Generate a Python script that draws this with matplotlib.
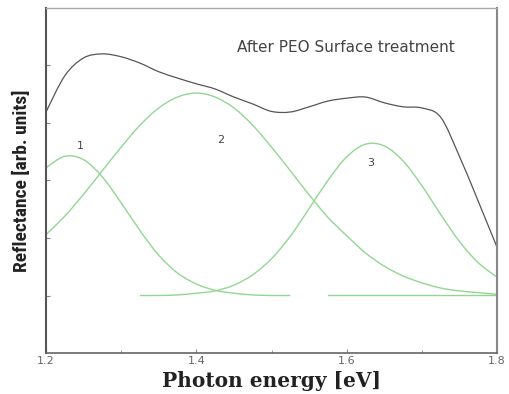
import numpy as np
import matplotlib
matplotlib.use("Agg")
import matplotlib.pyplot as plt
from matplotlib.path import Path
from matplotlib.patches import PathPatch

# photon energy grid (eV)
energy = [1.200, 1.225, 1.250, 1.275, 1.300, 1.325, 1.350, 1.375, 1.400, 1.425,
          1.450, 1.475, 1.500, 1.525, 1.550, 1.575, 1.600, 1.625, 1.650, 1.675,
          1.700, 1.725, 1.750, 1.775, 1.800]

# measured reflectance (black)
refl_total = [4.19, 4.82, 5.13, 5.20, 5.15, 5.04, 4.89, 4.78, 4.68, 4.59,
              4.45, 4.33, 4.20, 4.19, 4.28, 4.38, 4.43, 4.45, 4.35, 4.28,
              4.26, 4.10, 3.42, 2.64, 1.84]

# fitted peaks (green)
peak1 = [3.22, 3.42, 3.36, 3.06, 2.61, 2.13, 1.70, 1.39, 1.20, 1.09,
         1.04, 1.01, 1.00, 1.00, np.nan, 1.00, 1.00, 1.00, 1.00, 1.00,
         1.00, 1.00, 1.00, 1.00, 1.00]
peak2 = [2.06, 2.38, 2.76, 3.17, 3.58, 3.96, 4.26, 4.45, 4.52, 4.45,
         4.26, 3.96, 3.58, 3.17, 2.75, 2.36, 2.04, 1.74, 1.51, 1.34,
         1.22, 1.13, 1.08, 1.05, 1.02]
peak3 = [np.nan, np.nan, np.nan, np.nan, np.nan, 1.00, 1.00, 1.01, 1.04, 1.08,
         1.18, 1.36, 1.64, 2.03, 2.51, 3.00, 3.41, 3.63, 3.60, 3.34,
         2.91, 2.41, 1.94, 1.57, 1.32]

peak_labels = ['1', '2', '3']
label_pos = [(1.245, 3.60), (1.432, 3.70), (1.632, 3.30)]


def smooth_line(ax, x, y, **kw):
    # draws the points as a smooth curve (catmull-rom through each point)
    x = np.asarray(x, float)
    y = np.asarray(y, float)
    ok = ~np.isnan(y)
    # split at gaps
    runs = []
    cur = []
    for i in range(len(x)):
        if ok[i]:
            cur.append(i)
        elif cur:
            runs.append(cur)
            cur = []
    if cur:
        runs.append(cur)
    for r in runs:
        p = np.column_stack([x[r], y[r]])
        if len(p) < 2:
            continue
        verts = [p[0]]
        codes = [Path.MOVETO]
        for i in range(len(p) - 1):
            p0 = p[i - 1] if i > 0 else p[i]
            p3 = p[i + 2] if i + 2 < len(p) else p[i + 1]
            c1 = p[i] + (p[i + 1] - p0) / 6.0
            c2 = p[i + 1] - (p3 - p[i]) / 6.0
            verts += [c1, c2, p[i + 1]]
            codes += [Path.CURVE4] * 3
        ax.add_patch(PathPatch(Path(verts, codes), fill=False, **kw))


fig = plt.figure(figsize=(5.09, 3.94), dpi=100)
ax = fig.add_axes([0.0904, 0.104, 0.886, 0.876])

green = '#93d693'
smooth_line(ax, energy, peak1, edgecolor=green, lw=1.0)
smooth_line(ax, energy, peak2, edgecolor=green, lw=1.0)
smooth_line(ax, energy, peak3, edgecolor=green, lw=1.0)
smooth_line(ax, energy, refl_total, edgecolor='#555555', lw=0.9)

for txt, (x, y) in zip(peak_labels, label_pos):
    ax.text(x, y, txt, fontsize=8, color='#444444', ha='center', va='center')

ax.text(0.424, 0.885, 'After PEO Surface treatment', transform=ax.transAxes,
        fontsize=11, color='#444444', ha='left', va='center')

ax.set_xlim(1.2, 1.8)
ax.set_ylim(0, 6)
ax.set_xticks([1.2, 1.4, 1.6, 1.8])
ax.set_xticklabels(['1.2', '1.4', '1.6', '1.8'])
ax.set_xticks([1.3, 1.5, 1.7], minor=True)
ax.set_yticks([1, 2, 3, 4, 5])
ax.set_yticklabels([])
ax.tick_params(axis='both', which='both', direction='in', length=3,
               color='#888888', labelsize=8, labelcolor='#666666', pad=2)
ax.tick_params(axis='x', which='minor', length=2)

ax.spines['left'].set_color('#555555')
ax.spines['left'].set_linewidth(1.5)
ax.spines['bottom'].set_color('#666666')
ax.spines['bottom'].set_linewidth(1.2)
ax.spines['right'].set_color('#888888')
ax.spines['right'].set_linewidth(1.5)
ax.spines['top'].set_color('#aaaaaa')
ax.spines['top'].set_linewidth(1.0)

ax.set_xlabel('Photon energy [eV]', family='DejaVu Serif', fontweight='bold',
              fontsize=14.5, color='#222222', labelpad=4)
ax.set_ylabel('Reflectance [arb. units]',
              family=['Roboto Condensed', 'Liberation Sans Narrow', 'DejaVu Sans'],
              fontstretch='condensed', fontweight='bold', fontsize=14,
              color='#222222', labelpad=9)

fig.savefig('out.png', dpi=100)
